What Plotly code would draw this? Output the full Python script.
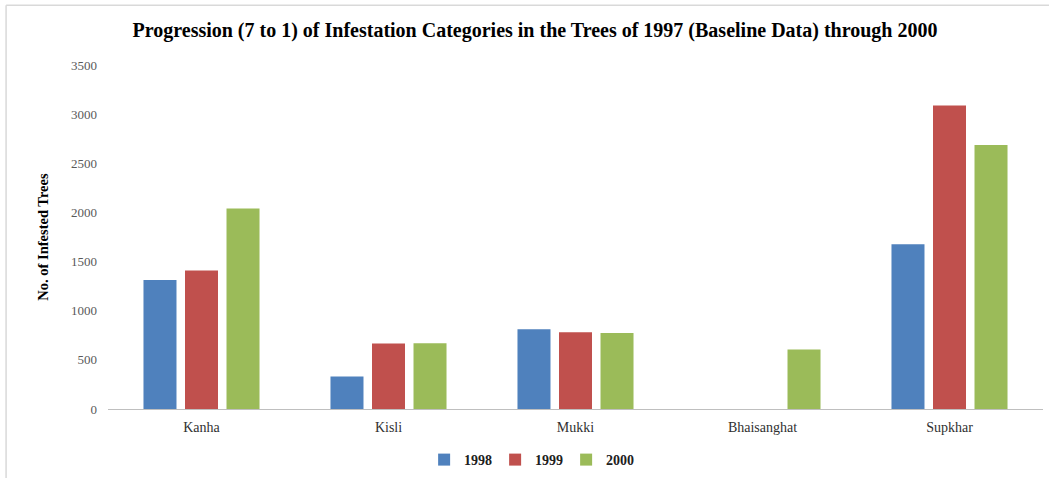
import plotly.graph_objects as go

categories = ["Kanha", "Kisli", "Mukki", "Bhaisanghat", "Supkhar"]
years = ["1998", "1999", "2000"]
v1998 = [1312, 330, 812, 0, 1676]
v1999 = [1410, 667, 780, 0, 3088]
v2000 = [2040, 670, 772, 606, 2686]
colors = ["#4F81BD", "#C0504D", "#9BBB59"]
yticks = [0, 500, 1000, 1500, 2000, 2500, 3000, 3500]

FONT = "Liberation Serif, Times New Roman, serif"

fig = go.Figure()
for name, vals, col in zip(years, [v1998, v1999, v2000], colors):
    fig.add_trace(go.Bar(name=name, x=categories, y=vals, marker_color=col,
                         marker_line_width=0))

fig.update_layout(
    width=1049, height=478,
    margin=dict(l=108, r=6, t=65, b=69, autoexpand=False),
    paper_bgcolor="white", plot_bgcolor="white",
    barmode="group", bargap=0.334, bargroupgap=0.205,
    font=dict(family=FONT, color="#404040"),
    title=dict(text="<b>Progression (7 to 1) of Infestation Categories in the Trees of 1997 (Baseline Data) through 2000</b>",
               x=0.51, xanchor="center", y=1 - 30 / 478, yanchor="middle",
               font=dict(family=FONT, size=20, color="black")),
    legend=dict(orientation="h", x=0.452, xanchor="center", yref="container",
                y=(478 - 460) / 478, yanchor="middle",
                font=dict(family=FONT, size=14, color="#202020", weight="bold"),
                itemwidth=30, entrywidth=26, entrywidthmode="pixels", traceorder="normal"),
    xaxis=dict(showgrid=False, showline=True, linecolor="#BFBFBF", linewidth=1,
               ticks="", tickfont=dict(family=FONT, size=14, color="#303030"),
               ticklabelstandoff=5),
    yaxis=dict(range=[0, 3500], tickvals=yticks, showgrid=False, showline=False,
               zeroline=False, ticks="", tickfont=dict(family=FONT, size=13, color="#595959"),
               ticklabelstandoff=10,
               title=dict(text="<b>No. of Infested Trees</b>", standoff=18,
                          font=dict(family=FONT, size=14.5, color="black"))),
    shapes=[
        dict(type="line", xref="paper", yref="paper", x0=-0.109, x1=1.01, y0=1.174, y1=1.174,
             line=dict(color="#D9D9D9", width=1.5)),
        dict(type="line", xref="paper", yref="paper", x0=-0.109, x1=-0.109, y0=1.174, y1=-0.21,
             line=dict(color="#D9D9D9", width=1.5)),
    ],
)

fig.write_html("out.html")
